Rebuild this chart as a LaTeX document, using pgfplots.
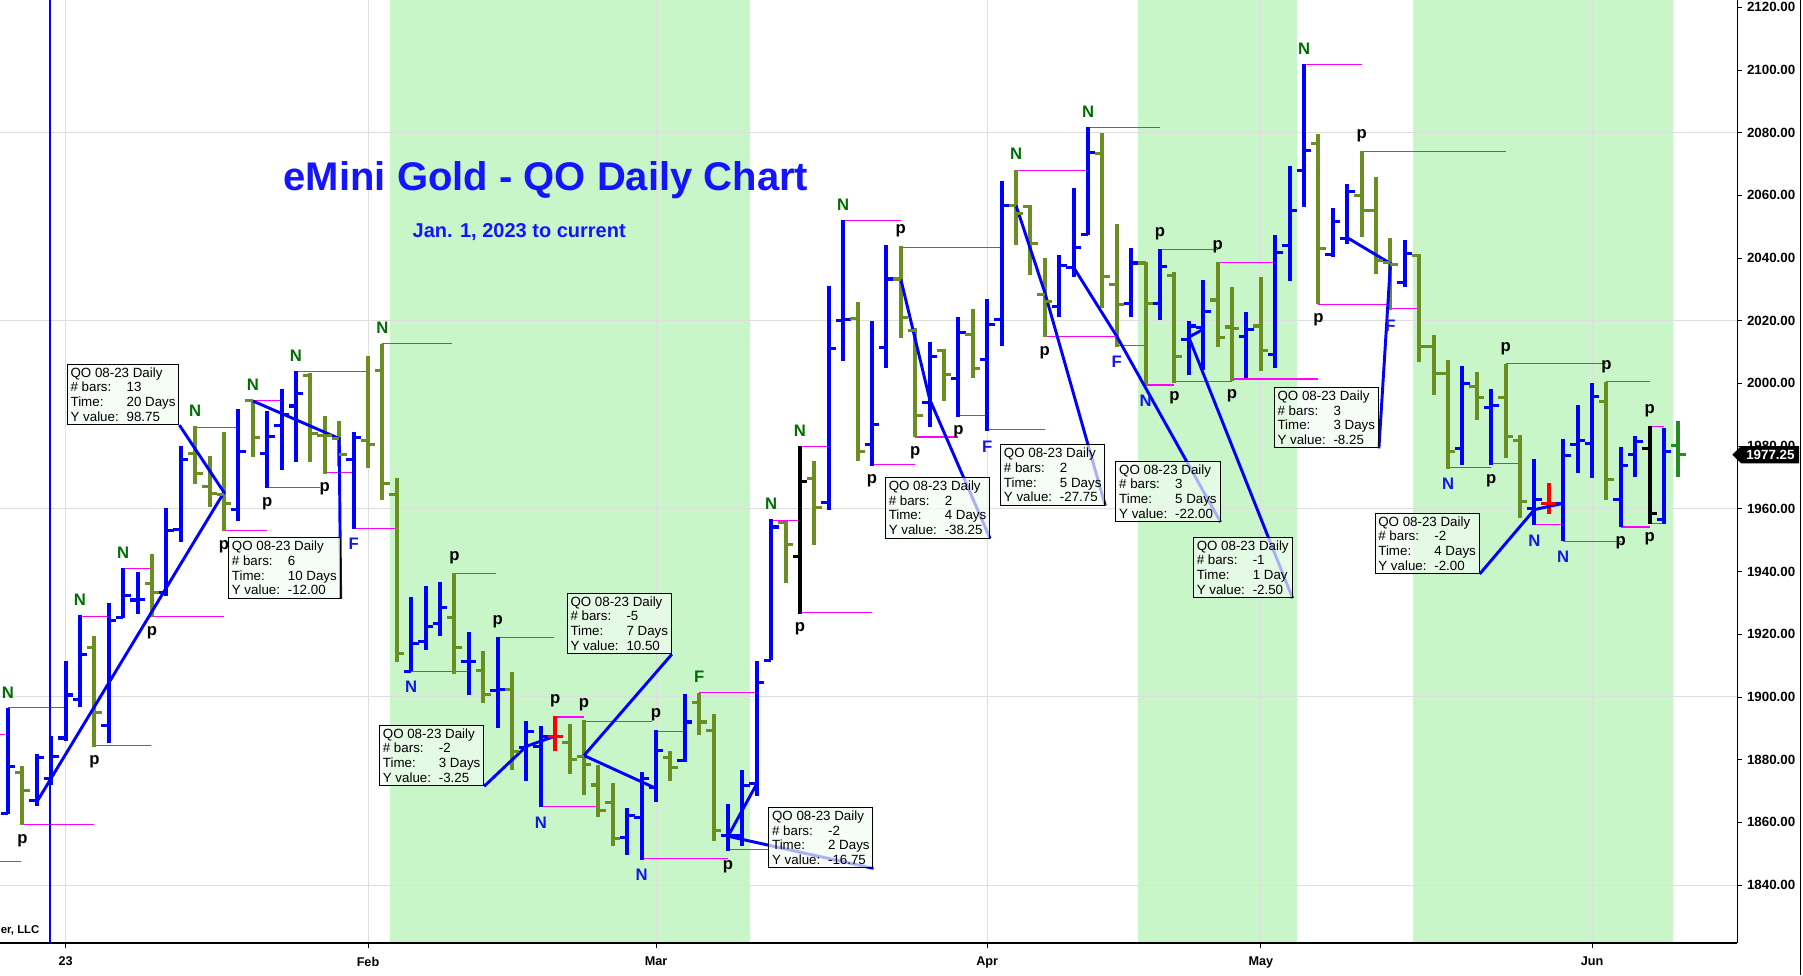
\documentclass[border=0pt]{standalone}
\usepackage{pgfplots}
\usepackage{pgfplotstable}
\pgfplotsset{compat=1.18}
\usetikzlibrary{calc}
\usepackage{fontspec}
\setmainfont{Liberation Sans}
\definecolor{barblue}{RGB}{0,0,255}
\definecolor{barolive}{RGB}{107,142,35}
\definecolor{bargreen}{RGB}{34,139,34}
\definecolor{bandgreen}{RGB}{200,246,200}
\definecolor{lblgreen}{RGB}{0,110,0}
\definecolor{lblblue}{RGB}{20,20,235}
\definecolor{pivot}{RGB}{255,0,255}
\definecolor{boxfill}{RGB}{242,252,242}
\definecolor{titleblue}{RGB}{20,20,255}

\pgfdeclareplotmark{otick}{\pgfpathmoveto{\pgfqpoint{-5.5pt}{0pt}}\pgfpathlineto{\pgfqpoint{0pt}{0pt}}\pgfusepathqstroke}
\pgfdeclareplotmark{ctick}{\pgfpathmoveto{\pgfqpoint{0pt}{0pt}}\pgfpathlineto{\pgfqpoint{5.5pt}{0pt}}\pgfusepathqstroke}

\pgfplotstableread{
x o h l c
-4 1862.8 1896.5 1862.5 1877.9
-2 1867 1881.8 1865.3 1880.7
-1 1874 1887.5 1872 1881
0 1886.9 1911.6 1886 1900.6
1 1899.2 1926 1896.9 1913.4
3 1891 1929.8 1885.2 1924.3
4 1925.4 1941.2 1925.1 1932.2
5 1930.9 1939.8 1926.3 1931.1
7 1933.2 1960.2 1932.1 1953.2
8 1953.3 1980 1949.4 1975.8
12 1959.8 1991.7 1956 1978.3
14 1977.6 1991.1 1966.6 1983.1
15 1986.6 1998.3 1972.5 1990
16 1992.8 2004 1974.9 1996.9
20 1975.8 1984.5 1953.6 1982.7
24 1908.2 1931.8 1908.2 1917.1
25 1917.8 1935.4 1915 1922.6
26 1923.3 1936.6 1919.5 1928.4
28 1911.2 1920.6 1900.5 1911.2
30 1901.9 1919 1890.2 1902.4
32 1884 1892.2 1873.3 1889
33 1884.3 1890.6 1864.8 1887.5
39 1855.2 1864.5 1849.7 1862.3
40 1861.4 1876 1848.1 1873.9
41 1871.2 1889.3 1866.6 1882.9
43 1879.7 1900.8 1879.2 1892
46 1855.7 1865.9 1850.7 1855.7
47 1855.7 1876.8 1852.3 1871.7
48 1872.3 1911.6 1868.4 1904.6
49 1911.7 1956.8 1911.7 1954.2
53 1962.1 2031 1959.5 2011.1
54 2020 2052.2 2007 2020.3
56 1980.6 2020 1973.8 1986.8
57 2011.6 2044 2005 2033.3
60 1994 2013.1 1986 2008.5
62 2001.6 2021.2 1989.4 2016.2
64 2007.7 2026.9 1984.8 2018.9
65 2020.5 2064.7 2011.9 2056.8
69 2024.6 2040.9 2021.3 2037.5
70 2037 2062.4 2034 2043.3
71 2047.5 2081.9 2047.2 2073.6
74 2025.4 2043.1 2021.3 2038.4
76 2025.4 2042.8 2020.2 2037.3
78 2014.1 2019.9 2002.6 2018.3
79 2017.7 2033.1 2004.2 2023
82 2015 2022.7 2001.8 2017.2
84 2009.2 2047.4 2005 2041.7
85 2044.1 2069.2 2032.6 2055.2
86 2067.9 2102 2056.2 2074.2
88 2041.1 2056 2040.4 2051.6
89 2046.3 2063.7 2044.4 2061.3
93 2032.2 2045.9 2030.7 2041.4
97 1979.3 2005.6 1973.9 1999.9
99 1992.2 1998.3 1973.9 1993
102 1960.2 1975.9 1954.7 1962.9
104 1961.7 1982.3 1949.6 1977
105 1980.5 1993 1971.3 1981.9
106 1980.8 2000.2 1969.9 1995.7
108 1963.1 1979.7 1954.2 1973.9
109 1977.4 1983.1 1970.2 1981.4
111 1956.5 1985.7 1955.1 1978.2
}\blueT

\pgfplotstableread{
x o h l c
-3 1876 1878 1859 1870
2 1915.7 1919.5 1884.1 1895.1
6 1936.1 1945.6 1925.4 1933.3
9 1977.6 1986.3 1968 1971.4
10 1967 1976.7 1960.7 1965
11 1964.6 1984.5 1952.9 1961.8
13 1994.4 1994.6 1976.5 1982.7
17 2002.4 2003.4 1974.9 1984.1
18 1983.5 1989.6 1971.2 1983.5
19 1982.4 1988 1973.5 1977.2
21 1981.8 2008.6 1973.1 1980.4
22 2004.2 2012.7 1962.8 1968
23 1964.6 1969.8 1911.2 1913.9
27 1925.4 1939.4 1907.2 1915.8
29 1908.3 1914.6 1898.1 1900.8
31 1902.4 1907.8 1876.8 1882.6
35 1885.4 1891.2 1875.5 1880
36 1881.1 1892.5 1868.7 1878.4
37 1871.9 1878.3 1861.6 1863.7
38 1866.4 1872.6 1852.5 1854.7
42 1880.8 1882.6 1873.1 1877.6
44 1898.2 1901.4 1887.7 1892
45 1889.3 1894.4 1854.1 1857.3
50 1955.7 1956 1936.2 1948.5
52 1969.8 1975.3 1948.5 1960.3
55 2020.8 2026.1 1975.3 1978.2
58 2033.3 2043.7 2014.6 2021.1
59 2016.9 2017.7 1982.8 1989.8
61 2010.4 2011.1 1994.4 2002.8
63 2015.7 2023.8 2001.6 2004.7
66 2056.8 2068.2 2044 2054.1
67 2056.3 2056.8 2034.5 2044.5
68 2028.5 2039.9 2014.7 2026
72 2073.3 2080 2024.1 2034.2
73 2031.5 2051 2011.7 2025.2
75 2038.4 2038.7 1999.3 2025.4
77 2034.5 2035.4 2000.2 2008.6
80 2026.6 2038.7 2011.7 2014.5
81 2018 2030.9 2000.9 2017.4
83 2018.3 2034 2003.9 2010.6
87 2076.4 2079.7 2025.2 2043
90 2060 2074.2 2046.7 2055.3
91 2055.1 2065.9 2034.9 2039.1
92 2038.7 2046.5 2023.4 2037.9
94 2040.8 2041.4 2006.7 2011.7
95 2011.7 2015.4 1996.2 2003.3
96 2003.3 2007.4 1972.8 1978.2
98 1998.9 2003.7 1988.2 1995.4
100 1995.4 2006.3 1976.2 1983.1
101 1981.9 1983.4 1957.1 1962.2
107 1994.2 2000.5 1962.7 1969.4
}\oliveT

\pgfplotstableread{
x o h l c
34 1887.5 1893.8 1882.9 1887.5
103 1961.6 1968.2 1958.2 1961.6
}\redT

\pgfplotstableread{
x o h l c
51 1944.7 1979.9 1926.6 1968.7
110 1979.3 1986.5 1955.3 1958.5
}\blackT

\pgfplotstableread{
x o h l c
112 1980.2 1988 1970.2 1977.25
}\greenT

\pgfplotstableread{
x1 x2 v
-4.6 -4.2 1888
-4.6 -3.1 1847.4
-4 0 1896.5
-3 2 1859.2
1 3 1925.6
2 5.9 1884.5
4 6 1940.9
6 11 1925.6
9 12 1986
11 14 1953.1
13 15 1994.6
14 17.7 1966.9
16 21 2003.8
18 20 1971.7
20 23 1953.8
22 26.8 2012.7
24 28 1908.2
27 29.9 1939.4
30 33.9 1919
34 36 1893.6
36 40.7 1892.3
33 37 1865.1
40 46 1848.6
41 43 1889.1
44 48 1901.3
46 48.8 1851.3
49 51 1956.4
51 53 1979.9
51 56 1926.9
54 58 2051.9
56 59 1974
58 65 2043.4
59 62 1982.9
62 64 1989.8
64 68 1985.2
66 71 2067.8
68 73 2014.9
71 76 2081.7
73 75 2012.2
75 77 1999.5
76 80 2042.6
77 81 2000.7
80 84 2038.6
81 87 2001.4
87 92 2025.2
86 90 2101.8
90 100 2073.9
92 94 2024
96 99 1973.1
99 101 1974.5
100 107 2006.3
102 104 1955
104 108 1949.7
107 110 2000.5
108 110 1954.2
110 111 1986.3
110 111 1955.4
}\pivotT

\newcommand{\ohlc}[2]{%
 \addplot[#2, line width=3pt, quiver={u=0,v=\thisrow{h}-\thisrow{l}}] table[x=x,y=l]{#1};
 \addplot[#2, only marks, mark=otick, mark options={line width=2.3pt}] table[x=x,y=o]{#1};
 \addplot[#2, only marks, mark=ctick, mark options={line width=2.3pt}] table[x=x,y=c]{#1};
}
\newcommand{\qbox}[5]{%
 \node[anchor=south east, draw=black, line width=0.75pt, fill=boxfill, fill opacity=0.7, text opacity=1, inner sep=2.5pt, align=left, font=\fontsize{10}{11}\selectfont] at (axis cs:#1,#2) {QO 08-23 Daily\\\makebox[42pt][l]{\# bars:}#3\\\makebox[42pt][l]{Time:}#4\\\makebox[42pt][l]{Y value:}#5};
}
\newcommand{\labA}[4]{\node[font=\bfseries\fontsize{12.5}{14}\selectfont, text=#4, yshift=11.5pt] at (axis cs:#1,#2) {#3};}
\newcommand{\labB}[4]{\node[font=\bfseries\fontsize{12.5}{14}\selectfont, text=#4, yshift=-11.5pt] at (axis cs:#1,#2) {#3};}

\begin{document}
\begin{tikzpicture}
\begin{axis}[
 at={(0pt,24pt)}, anchor=south west,
 scale only axis, width=1302.75pt, height=707.25pt,
 xmin=-4.556, xmax=116.07, ymin=1821.5, ymax=2122.3,
 axis x line*=bottom, axis y line*=right,
 axis line style={black, line width=0.8pt},
 xtick={0,21,41,64,83,106}, xticklabels={23,Feb,Mar,Apr,May,Jun},
 ytick={1840,1860,...,2120},
 tick align=outside, major tick length=4pt,
 tick style={black, line width=0.6pt},
 xmajorgrids,
 grid style={black!13, line width=0.75pt},
 extra y ticks={1840,1900,1960,2020,2080},
 extra y tick style={grid=major, major tick length=0pt, yticklabel={}},
 /pgf/number format/assume math mode=true,
 yticklabel style={font=\bfseries\fontsize{10}{12}\selectfont, /pgf/number format/.cd, fixed, fixed zerofill, precision=2, 1000 sep={}},
 xticklabel style={font=\bfseries\fontsize{9.5}{11}\selectfont, yshift=-3pt},
 set layers,
]
% bands
\addplot[draw=none, fill=bandgreen, on layer=axis background] coordinates {(22.5,1821.5) (22.5,2122.3) (47.5,2122.3) (47.5,1821.5)} -- cycle;
\addplot[draw=none, fill=bandgreen, on layer=axis background] coordinates {(74.5,1821.5) (74.5,2122.3) (85.5,2122.3) (85.5,1821.5)} -- cycle;
\addplot[draw=none, fill=bandgreen, on layer=axis background] coordinates {(93.55,1821.5) (93.55,2122.3) (111.6,2122.3) (111.6,1821.5)} -- cycle;

% pivot lines
\addplot[pivot, line width=0.8pt, quiver={u=\thisrow{x2}-\thisrow{x1}, v=0}] table[x=x1,y=v]{\pivotT};

% bars
\ohlc{\blueT}{barblue}
\ohlc{\oliveT}{barolive}
\ohlc{\redT}{red}
\ohlc{\blackT}{black}
\ohlc{\greenT}{bargreen}

% vertical line
\addplot[barblue, line width=1.6pt] coordinates {(-1.08,1821.5) (-1.08,2122.3)};

% measurement lines
\addplot[barblue, line width=2.2pt] coordinates {(-2,1866.5) (11,1965.25) (7.9,1986.7)};
\addplot[barblue, line width=2.2pt] coordinates {(13,1994.4) (19,1982.4) (19.1,1931.3)};
\addplot[barblue, line width=2.2pt] coordinates {(34,1887.5) (32,1884.25) (29.07,1871.5)};
\addplot[barblue, line width=2.2pt] coordinates {(41,1870.8) (36,1881.3) (42.1,1913.6)};
\addplot[barblue, line width=2.2pt] coordinates {(48,1872.3) (46,1855.55) (56.1,1845.3)};
\addplot[barblue, line width=2.2pt] coordinates {(58,2033.25) (60,1995) (64.2,1950.5)};
\addplot[barblue, line width=2.2pt] coordinates {(66,2056.75) (68,2029) (72.2,1961)};
\addplot[barblue, line width=2.2pt] coordinates {(70,2037) (73,2015) (80.2,1955.8)};
\addplot[barblue, line width=2.2pt] coordinates {(79,2017.25) (78,2014.75) (85.2,1931.5)};
\addplot[barblue, line width=2.2pt] coordinates {(89,2046.5) (92,2038.25) (91.2,1979.3)};
\addplot[barblue, line width=2.2pt] coordinates {(104,1961.75) (102,1959.75) (98.2,1939.2)};

% boxes
\qbox{7.9}{1986.7}{13}{20 Days}{98.75}
\qbox{19.1}{1931.3}{6}{10 Days}{-12.00}
\qbox{29.07}{1871.5}{-2}{3 Days}{-3.25}
\qbox{42.1}{1913.6}{-5}{7 Days}{10.50}
\qbox{56.1}{1845.3}{-2}{2 Days}{-16.75}
\qbox{64.2}{1950.5}{2}{4 Days}{-38.25}
\qbox{72.2}{1961}{2}{5 Days}{-27.75}
\qbox{80.2}{1955.8}{3}{5 Days}{-22.00}
\qbox{85.2}{1931.5}{-1}{1 Day}{-2.50}
\qbox{91.2}{1979.3}{3}{3 Days}{-8.25}
\qbox{98.2}{1939.2}{-2}{4 Days}{-2.00}

% labels above highs
\labA{-4}{1896.5}{N}{lblgreen}
\labA{1}{1926}{N}{lblgreen}
\labA{4}{1941.2}{N}{lblgreen}
\labA{9}{1986.3}{N}{lblgreen}
\labA{13}{1994.6}{N}{lblgreen}
\labA{16}{2004}{N}{lblgreen}
\labA{22}{2012.7}{N}{lblgreen}
\labA{49}{1956.8}{N}{lblgreen}
\labA{51}{1979.9}{N}{lblgreen}
\labA{54}{2052.2}{N}{lblgreen}
\labA{66}{2068.2}{N}{lblgreen}
\labA{71}{2081.9}{N}{lblgreen}
\labA{86}{2102}{N}{lblgreen}
\labA{44}{1901.4}{F}{lblgreen}
\labA{27}{1939.4}{p}{black}
\labA{30}{1919}{p}{black}
\labA{34}{1893.8}{p}{black}
\labA{36}{1892.5}{p}{black}
\labA{41}{1889.3}{p}{black}
\labA{58}{2043.7}{p}{black}
\labA{76}{2042.8}{p}{black}
\labA{80}{2038.7}{p}{black}
\labA{90}{2074.2}{p}{black}
\labA{100}{2006.3}{p}{black}
\labA{107}{2000.5}{p}{black}
\labA{110}{1986.5}{p}{black}
% labels below lows
\labB{24}{1908.2}{N}{lblblue}
\labB{33}{1864.8}{N}{lblblue}
\labB{40}{1848.1}{N}{lblblue}
\labB{75}{1999.3}{N}{lblblue}
\labB{96}{1972.8}{N}{lblblue}
\labB{102}{1954.7}{N}{lblblue}
\labB{104}{1949.6}{N}{lblblue}
\labB{20}{1953.6}{F}{lblblue}
\labB{64}{1984.8}{F}{lblblue}
\labB{73}{2011.7}{F}{lblblue}
\labB{92}{2023.4}{F}{lblblue}
\labB{-3}{1859}{p}{black}
\labB{2}{1884.1}{p}{black}
\labB{6}{1925.4}{p}{black}
\labB{11}{1952.9}{p}{black}
\labB{14}{1966.6}{p}{black}
\labB{18}{1971.2}{p}{black}
\labB{46}{1850.7}{p}{black}
\labB{51}{1926.6}{p}{black}
\labB{56}{1973.8}{p}{black}
\labB{59}{1982.8}{p}{black}
\labB{62}{1989.4}{p}{black}
\labB{68}{2014.7}{p}{black}
\labB{77}{2000.2}{p}{black}
\labB{81}{2000.9}{p}{black}
\labB{87}{2025.2}{p}{black}
\labB{99}{1973.9}{p}{black}
\labB{108}{1954.2}{p}{black}
\labB{110}{1955.3}{p}{black}

% titles
\node[font=\bfseries\fontsize{30}{36}\selectfont, text=titleblue] at (axis cs:33.36,2064.8) {eMini Gold - QO Daily Chart};
\node[font=\bfseries\fontsize{15}{18}\selectfont, text=titleblue] at (axis cs:31.5,2048.2) {Jan. 1, 2023 to current};
\node[anchor=east, font=\bfseries\fontsize{8.5}{10}\selectfont] at (axis cs:-1.5,1825.6) {ler, LLC};

\coordinate (pm) at (axis cs:116.07,1977.25);
\end{axis}
\fill[black] ($(pm)+(-3.5pt,0)$) -- ($(pm)+(3pt,6.4pt)$) -- ($(pm)+(46.5pt,6.4pt)$) -- ($(pm)+(46.5pt,-6.4pt)$) -- ($(pm)+(3pt,-6.4pt)$) -- cycle;
\node[text=white, font=\bfseries\fontsize{10}{12}\selectfont] at ($(pm)+(25pt,0)$) {1977.25};
\draw[black, line width=0.75pt] (1350pt,0pt) -- (1350pt,731.25pt);
\pgfresetboundingbox
\path[use as bounding box] (0pt,0pt) rectangle (1352.25pt,731.25pt);
\end{tikzpicture}
\end{document}
